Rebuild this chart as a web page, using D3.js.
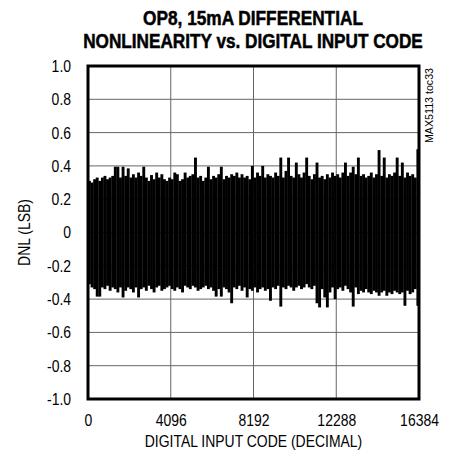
<!DOCTYPE html>
<html>
<head>
<meta charset="utf-8">
<script src="https://cdn.jsdelivr.net/npm/d3@7"></script>
<style>
body { margin:0; background:#fff; }
text { font-family: "Liberation Sans", Arial, sans-serif; }
</style>
</head>
<body>
<script>
// DNL envelope, one max/min pair per 128 codes (128 bins over 0..16384)
var binSize = 128;
var dnlMax = [
 0.31,0.30,0.32,0.33,0.31,0.33,0.34,0.32,0.33,0.34,
 0.395,0.395,0.33,0.395,0.34,0.385,0.33,0.35,0.33,0.36,
 0.34,0.395,0.33,0.31,0.345,0.32,0.36,0.33,0.35,0.32,
 0.31,0.33,0.32,0.36,0.35,0.31,0.32,0.36,0.33,0.34,
 0.35,0.45,0.33,0.34,0.31,0.33,0.395,0.32,0.34,0.33,
 0.35,0.395,0.32,0.34,0.33,0.35,0.34,0.36,0.33,0.35,
 0.33,0.34,0.32,0.40,0.33,0.36,0.34,0.40,0.33,0.35,
 0.34,0.33,0.36,0.34,0.45,0.33,0.37,0.45,0.34,0.33,
 0.42,0.35,0.33,0.36,0.45,0.34,0.32,0.35,0.42,0.33,
 0.34,0.32,0.35,0.33,0.36,0.34,0.35,0.33,0.36,0.42,
 0.34,0.36,0.395,0.35,0.45,0.34,0.35,0.33,0.34,0.36,
 0.33,0.35,0.495,0.34,0.45,0.33,0.35,0.34,0.36,0.45,
 0.34,0.42,0.33,0.36,0.34,0.35,0.33,0.50
];
var dnlMin = [
 -0.31,-0.33,-0.34,-0.385,-0.385,-0.33,-0.34,-0.32,-0.35,-0.33,
 -0.34,-0.36,-0.33,-0.39,-0.35,-0.33,-0.34,-0.36,-0.33,-0.39,
 -0.34,-0.33,-0.35,-0.32,-0.34,-0.36,-0.33,-0.32,-0.35,-0.34,
 -0.33,-0.32,-0.34,-0.35,-0.33,-0.34,-0.36,-0.32,-0.33,-0.34,
 -0.32,-0.33,-0.35,-0.34,-0.33,-0.32,-0.34,-0.33,-0.35,-0.385,
 -0.34,-0.385,-0.33,-0.34,-0.36,-0.425,-0.33,-0.34,-0.32,-0.35,
 -0.33,-0.39,-0.34,-0.35,-0.33,-0.36,-0.34,-0.33,-0.35,-0.34,
 -0.41,-0.33,-0.34,-0.32,-0.445,-0.33,-0.34,-0.32,-0.33,-0.35,
 -0.33,-0.32,-0.34,-0.33,-0.31,-0.33,-0.34,-0.32,-0.425,-0.45,
 -0.34,-0.39,-0.45,-0.36,-0.33,-0.40,-0.34,-0.33,-0.35,-0.32,
 -0.34,-0.36,-0.445,-0.33,-0.37,-0.35,-0.36,-0.34,-0.36,-0.37,
 -0.35,-0.36,-0.38,-0.36,-0.35,-0.38,-0.36,-0.37,-0.35,-0.36,
 -0.37,-0.36,-0.44,-0.35,-0.37,-0.36,-0.34,-0.44
];

var xTicks = [0, 4096, 8192, 12288, 16384];
var xTickLabels = ["0", "4096", "8192", "12288", "16384"];
var yTicks = [1.0, 0.8, 0.6, 0.4, 0.2, 0, -0.2, -0.4, -0.6, -0.8, -1.0];
var yTickLabels = ["1.0", "0.8", "0.6", "0.4", "0.2", "0", "-0.2", "-0.4", "-0.6", "-0.8", "-1.0"];

var titleLines = ["OP8, 15mA DIFFERENTIAL", "NONLINEARITY vs. DIGITAL INPUT CODE"];
var xTitle = "DIGITAL INPUT CODE (DECIMAL)";
var yTitle = "DNL (LSB)";
var tocLabel = "MAX5113 toc33";

var W = 452, H = 462;
var pLeft = 88, pRight = 419, pTop = 66, pBottom = 399;

var svg = d3.select("body").append("svg").attr("width", W).attr("height", H);

var x = d3.scaleLinear().domain([0, 16384]).range([pLeft, pRight]);
var y = d3.scaleLinear().domain([-1, 1]).range([pBottom, pTop]);

//grid
svg.append("g").selectAll("line").data(yTicks.slice(1, -1)).enter().append("line")
    .attr("x1", pLeft).attr("x2", pRight)
    .attr("y1", function(d){ return y(d); }).attr("y2", function(d){ return y(d); })
    .attr("stroke", "#666").attr("stroke-width", 1);
svg.append("g").selectAll("line").data(xTicks.slice(1, -1)).enter().append("line")
    .attr("y1", pTop).attr("y2", pBottom)
    .attr("x1", function(d){ return x(d); }).attr("x2", function(d){ return x(d); })
    .attr("stroke", "#666").attr("stroke-width", 1);

//data band
var bw = x(binSize) - x(0);
svg.append("g").selectAll("rect").data(dnlMax).enter().append("rect")
    .attr("x", function(d, i){ return x(i * binSize); })
    .attr("width", bw + 0.3)
    .attr("y", function(d){ return y(d); })
    .attr("height", function(d, i){ return y(dnlMin[i]) - y(d); })
    .attr("fill", "#000");

//frame
svg.append("rect").attr("x", pLeft).attr("y", pTop)
    .attr("width", pRight - pLeft).attr("height", pBottom - pTop)
    .attr("fill", "none").attr("stroke", "#000").attr("stroke-width", 3);

//axes
var yAxis = d3.axisLeft(y).tickValues(yTicks).tickSize(0).tickPadding(17)
    .tickFormat(function(d, i){ return yTickLabels[i]; });
var gy = svg.append("g").attr("transform", "translate(" + pLeft + ",0)").call(yAxis);
gy.select(".domain").remove();
gy.selectAll("text").attr("font-size", 17).attr("fill", "#000")
    .style("font-family", "'Liberation Sans', Arial, sans-serif");

var xAxis = d3.axisBottom(x).tickValues(xTicks).tickSize(0).tickPadding(15)
    .tickFormat(function(d, i){ return xTickLabels[i]; });
var gx = svg.append("g").attr("transform", "translate(0," + pBottom + ")").call(xAxis);
gx.select(".domain").remove();
gx.selectAll("text").attr("font-size", 17).attr("fill", "#000")
    .style("font-family", "'Liberation Sans', Arial, sans-serif");

svg.append("text").attr("class", "narrow").attr("x", (pLeft + pRight) / 2).attr("y", 447)
    .attr("text-anchor", "middle").attr("font-size", 17).text(xTitle);

svg.append("text").attr("class", "narrow").attr("transform", "translate(30," + y(0) + ") rotate(-90)")
    .attr("text-anchor", "middle").attr("font-size", 17).text(yTitle);

// squeeze regular texts to a narrow face
gy.selectAll("text").classed("narrow", true);
gx.selectAll("text").classed("narrow", true);
svg.selectAll(".narrow").each(function(){
    var w = this.getComputedTextLength();
    d3.select(this).attr("textLength", w * 0.82).attr("lengthAdjust", "spacingAndGlyphs");
});

//titles (scaled horizontally to the condensed width)
var tw = [220, 340];
titleLines.forEach(function(line, i){
    var t = svg.append("text")
        .attr("text-anchor", "middle").attr("font-size", 20).attr("font-weight", "bold")
        .attr("stroke", "#000").attr("stroke-width", 0.5)
        .text(line);
    var k = tw[i] / t.node().getComputedTextLength();
    t.attr("transform", "translate(253," + (25 + i * 23) + ") scale(" + k + ",1)");
});

svg.append("text").attr("transform", "translate(433,143) rotate(-90)")
    .attr("text-anchor", "start").attr("font-size", 10)
    .attr("textLength", 75).attr("lengthAdjust", "spacingAndGlyphs")
    .text(tocLabel);
</script>
</body>
</html>
